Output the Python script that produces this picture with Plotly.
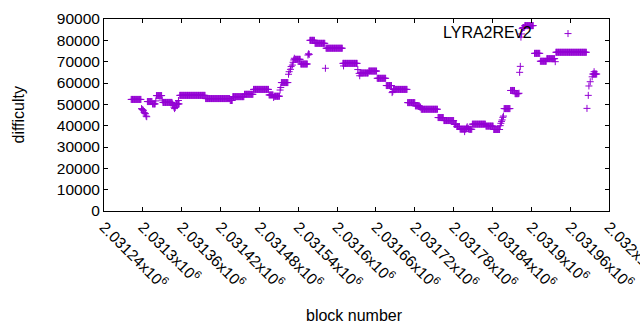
import plotly.graph_objects as go

# ---- data: runs of constant difficulty (first block, last block, difficulty)
run_start = [2031282, 2031307, 2031315, 2031321, 2031331, 2031351, 2031357, 2031397, 2031435,
             2031439, 2031457, 2031471, 2031495, 2031503, 2031514, 2031535, 2031544, 2031558,
             2031566, 2031583, 2031609, 2031636, 2031649, 2031662, 2031676, 2031687, 2031709,
             2031721, 2031728, 2031730, 2031756, 2031765, 2031781, 2031785, 2031790, 2031804,
             2031809, 2031830, 2031842, 2031858, 2031868, 2031875, 2031887, 2031890, 2031905,
             2031914, 2031924, 2031938, 2031995]
run_end = [2031297, 2031314, 2031319, 2031329, 2031345, 2031356, 2031396, 2031434, 2031438,
           2031456, 2031470, 2031494, 2031501, 2031511, 2031524, 2031543, 2031554, 2031565,
           2031581, 2031608, 2031631, 2031648, 2031661, 2031675, 2031684, 2031708, 2031720,
           2031727, 2031729, 2031755, 2031764, 2031780, 2031784, 2031789, 2031799, 2031808,
           2031829, 2031841, 2031851, 2031867, 2031874, 2031880, 2031889, 2031903, 2031913,
           2031923, 2031936, 2031985, 2032001]
run_value = [52300, 51300, 50200, 54100, 50900, 50200, 54200, 52700, 51800,
             53600, 54700, 57000, 54400, 53800, 60200, 71100, 68900, 80000,
             78600, 76300, 69200, 64700, 65600, 62200, 58800, 57000, 50800,
             49300, 48700, 47700, 43800, 42400, 40600, 39600, 38400, 38300,
             40700, 39800, 38200, 48000, 56500, 55000, 86000, 86900, 73900,
             70200, 71400, 74400, 64200]

# ---- data: individual blocks
single_block = [2031298, 2031299, 2031300, 2031301, 2031302, 2031303, 2031304, 2031305, 2031306,
                2031320, 2031330, 2031346, 2031347, 2031348, 2031349, 2031350, 2031355,
                2031502, 2031512, 2031513,
                2031525, 2031526, 2031528, 2031529, 2031531, 2031532, 2031533, 2031534,
                2031555, 2031556, 2031557, 2031582, 2031610, 2031632, 2031634, 2031635,
                2031685, 2031686, 2031797, 2031800, 2031801, 2031802, 2031803,
                2031852, 2031853, 2031854, 2031855, 2031856, 2031857,
                2031881, 2031882, 2031883, 2031884, 2031885, 2031886,
                2031937, 2031986, 2031988, 2031989, 2031991, 2031994, 2031997]
single_value = [48000, 47600, 47400, 47000, 46200, 45800, 45600, 44500, 44200,
                51600, 52000, 50200, 49500, 48700, 48000, 48500, 51800,
                53200, 56700, 57900,
                64100, 65300, 66400, 67700, 68400, 69700, 70800, 71600,
                73100, 73700, 73400, 66900, 68000, 66300, 64500, 63400,
                55500, 56000, 37200, 38900, 39500, 38800, 38500,
                40000, 41100, 42000, 42700, 43900, 44500,
                55200, 65000, 67800, 81500, 83000, 85500,
                70000, 48100, 54200, 58600, 60600, 62900, 65300]

tick_vals = [2031240, 2031300, 2031360, 2031420, 2031480, 2031540, 2031600,
             2031660, 2031720, 2031780, 2031840, 2031900, 2031960, 2032020]
tick_text = ["2.03124x10<sup>6</sup>", "2.0313x10<sup>6</sup>", "2.03136x10<sup>6</sup>",
             "2.03142x10<sup>6</sup>", "2.03148x10<sup>6</sup>", "2.03154x10<sup>6</sup>",
             "2.0316x10<sup>6</sup>", "2.03166x10<sup>6</sup>", "2.03172x10<sup>6</sup>",
             "2.03178x10<sup>6</sup>", "2.03184x10<sup>6</sup>", "2.0319x10<sup>6</sup>",
             "2.03196x10<sup>6</sup>", "2.032x10<sup>6</sup>"]
series_name = "LYRA2REv2"

blocks, diffs = [], []
for s, e, v in zip(run_start, run_end, run_value):
    for b in range(s, e + 1):
        blocks.append(b)
        diffs.append(v)
blocks += single_block
diffs += single_value

FONT = "Liberation Sans, Arial, sans-serif"
COLOR = "#9400D3"

fig = go.Figure()
fig.add_trace(go.Scatter(
    x=blocks, y=diffs, mode="markers", name=" ",
    marker=dict(symbol="cross-thin", size=5, color=COLOR,
                line=dict(color=COLOR, width=1)),
    showlegend=True,
))

L, R, T, B = 104, 31, 19, 119
W, H = 640, 330
pw, ph = W - L - R, H - T - B

def px_x(px):
    return (px - L) / pw

def px_y(py):
    return (H - B - py) / ph

fig.update_layout(
    width=W, height=H,
    margin=dict(l=L, r=R, t=T, b=B, autoexpand=False),
    paper_bgcolor="white", plot_bgcolor="white",
    font=dict(family=FONT, size=15.5, color="black"),
    xaxis=dict(range=[2031240, 2032020.01], tickvals=tick_vals, ticktext=tick_text,
               tickangle=45, ticks="inside", ticklen=4, tickcolor="black",
               showline=True, linecolor="black", linewidth=1, mirror="ticks",
               showgrid=False, zeroline=False, automargin=False,
               ticklabeloverflow="allow",
               tickfont=dict(family=FONT, size=15.5, color="black")),
    yaxis=dict(range=[0, 90000], dtick=10000, tickformat="d",
               ticks="inside", ticklen=4, tickcolor="black",
               showline=True, linecolor="black", linewidth=1, mirror="ticks",
               showgrid=False, zeroline=False, automargin=False,
               ticklabeloverflow="allow",
               tickfont=dict(family=FONT, size=15.5, color="black")),
    legend=dict(x=px_x(548), y=px_y(34), xanchor="left", yanchor="middle",
                bgcolor="rgba(0,0,0,0)", borderwidth=0,
                font=dict(family=FONT, size=15.5, color="black")),
    annotations=[
        dict(text="difficulty", xref="paper", yref="paper", x=px_x(17.5), y=0.5,
             textangle=-90, showarrow=False, xanchor="center", yanchor="middle",
             font=dict(family=FONT, size=16, color="black")),
        dict(text="block number", xref="paper", yref="paper", x=px_x(354), y=px_y(315),
             showarrow=False, xanchor="center", yanchor="middle",
             font=dict(family=FONT, size=16, color="black")),
        dict(text=series_name, xref="paper", yref="paper", x=px_x(534), y=px_y(33),
             showarrow=False, xanchor="right", yanchor="middle",
             font=dict(family=FONT, size=16, color="black")),
    ],
)

fig.write_html("out.html", config={"displayModeBar": False},
               post_script="document.body.style.margin='0px';document.body.style.padding='0px';")
